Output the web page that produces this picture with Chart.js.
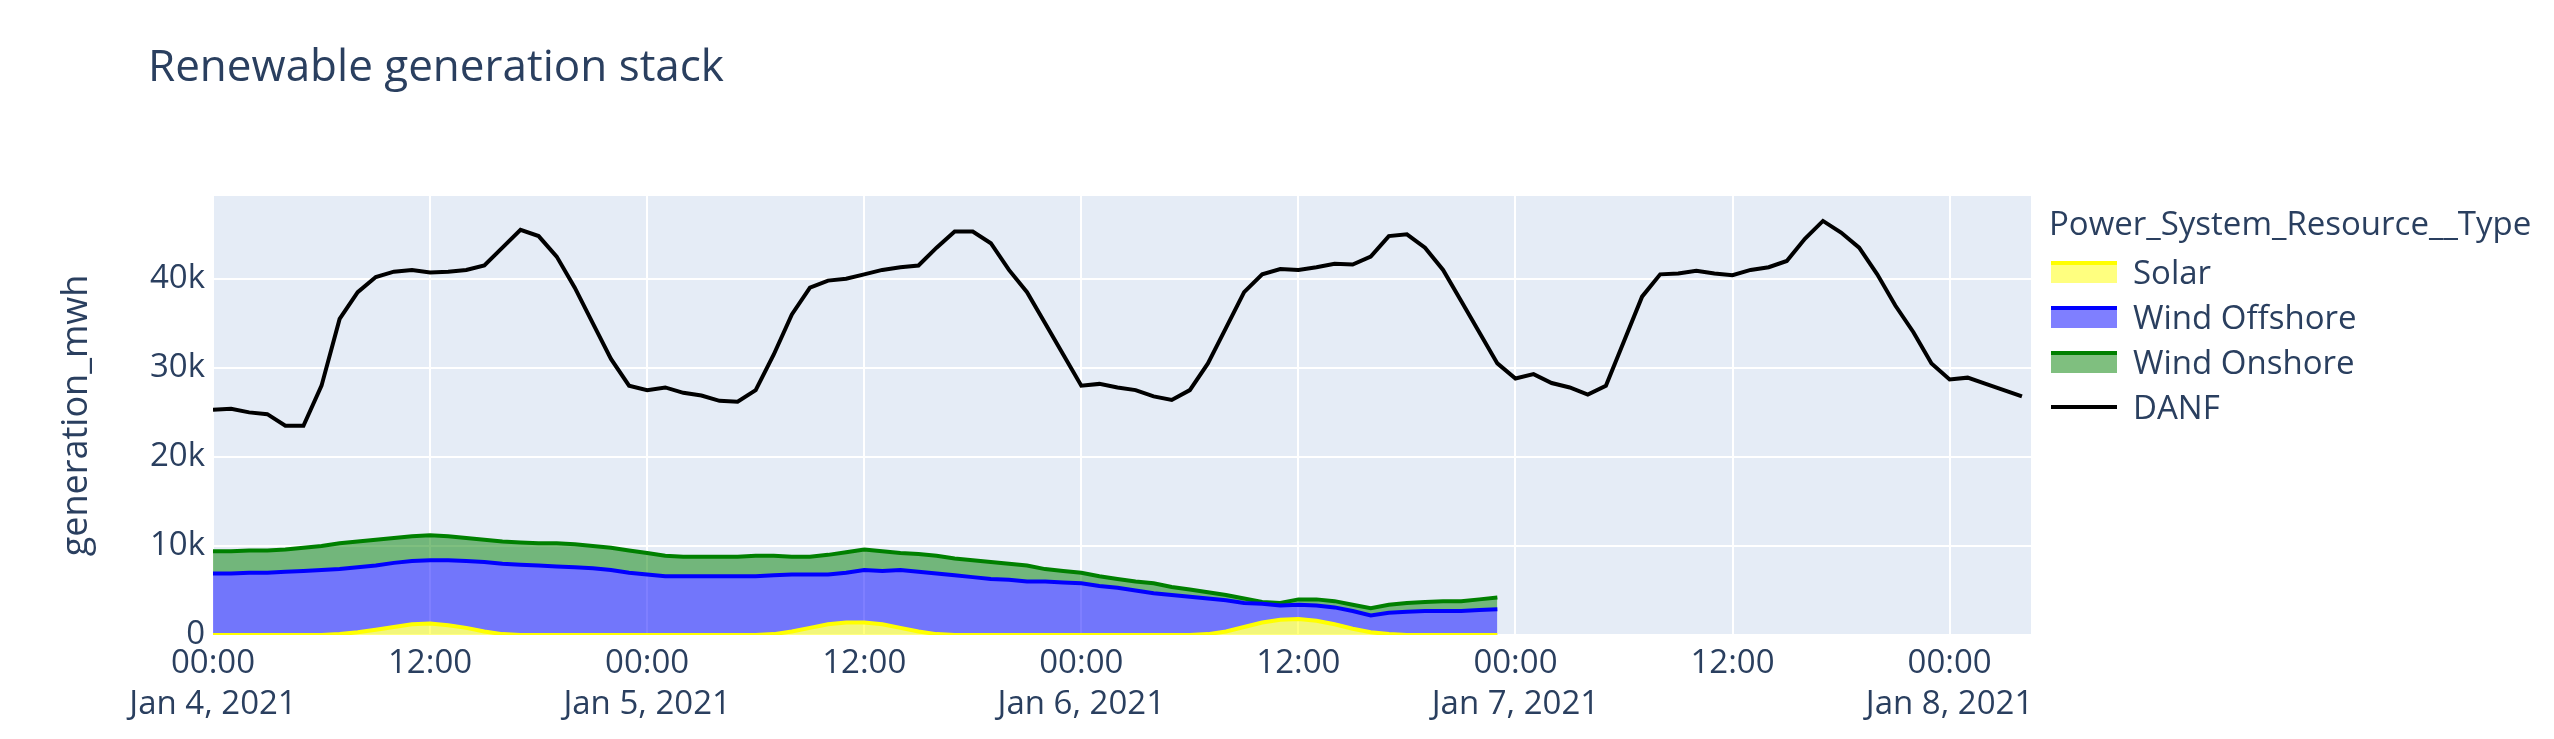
<!DOCTYPE html>
<html>
<head>
<meta charset="utf-8">
<script src="https://cdn.jsdelivr.net/npm/chart.js@4/dist/chart.umd.min.js"></script>
<style>
  body { margin: 0; background: #fff; font-family: 'Open Sans', sans-serif; color: #2a3f5f; }
  #wrap { position: relative; width: 2554px; height: 739px; }
  #title { position: absolute; left: 148px; top: 34px; font-size: 44px; }
  #legend { position: absolute; left: 2049px; top: 200px; font-size: 33px; }
  #legend .head { margin-bottom: 4px; }
  #legend .item { display: flex; align-items: center; height: 45px; }
  #legend .sw { width: 66px; height: 22px; margin-left: 2px; margin-right: 16px; box-sizing: border-box; }
</style>
</head>
<body>
<div id="wrap">
  <canvas id="myChart" width="2554" height="739"></canvas>
  <div id="title">Renewable generation stack</div>
  <div id="legend">
    <div class="head">Power_System_Resource__Type</div>
    <div class="item"><div class="sw" style="background:rgba(255,255,0,0.5);border-top:4px solid #ffff00"></div>Solar</div>
    <div class="item"><div class="sw" style="background:rgba(0,0,255,0.5);border-top:4px solid #0000ff"></div>Wind Offshore</div>
    <div class="item"><div class="sw" style="background:rgba(0,128,0,0.5);border-top:4px solid #008000"></div>Wind Onshore</div>
    <div class="item"><div class="sw" style="height:4px;background:#000"></div>DANF</div>
  </div>
</div>
<script>
// === Daten (MWh, stündlich ab 04.01.2021 00:00) ===
const dayLabels = ['Jan 4, 2021', 'Jan 5, 2021', 'Jan 6, 2021', 'Jan 7, 2021', 'Jan 8, 2021'];
const xTicks = [0, 12, 24, 36, 48, 60, 72, 84, 96];
const yTicks = [0, 10000, 20000, 30000, 40000];

const solar = [
  0, 0, 0, 0, 0, 0, 0, 100, 300, 600, 900, 1200, 1300, 1100, 800, 400, 100, 0, 0, 0, 0, 0, 0, 0,
  0, 0, 0, 0, 0, 0, 0, 100, 400, 800, 1200, 1400, 1400, 1200, 800, 400, 100, 0, 0, 0, 0, 0, 0, 0,
  0, 0, 0, 0, 0, 0, 0, 100, 400, 900, 1400, 1700, 1800, 1600, 1200, 700, 300, 100, 0, 0, 0, 0, 0, 0
];

// Oberkante Offshore (gestapelt auf Solar)
const offshoreTop = [
  6900, 6900, 7000, 7000, 7100, 7200, 7300, 7400, 7600, 7800, 8100, 8300,
  8400, 8400, 8300, 8200, 8000, 7900, 7800, 7700, 7600, 7500, 7300, 7000,
  6800, 6600, 6600, 6600, 6600, 6600, 6600, 6700, 6800, 6800, 6800, 7000,
  7300, 7200, 7300, 7100, 6900, 6700, 6500, 6300, 6200, 6000, 6000, 5900,
  5800, 5500, 5300, 5000, 4700, 4500, 4300, 4100, 3900, 3600, 3500, 3300,
  3400, 3300, 3100, 2700, 2200, 2500, 2600, 2700, 2700, 2700, 2800, 2900
];

// Oberkante Onshore (gestapelt auf Offshore)
const onshoreTop = [
  9400, 9400, 9500, 9500, 9600, 9800, 10000, 10300, 10500, 10700, 10900, 11100,
  11200, 11100, 10900, 10700, 10500, 10400, 10300, 10300, 10200, 10000, 9800, 9500,
  9200, 8900, 8800, 8800, 8800, 8800, 8900, 8900, 8800, 8800, 9000, 9300,
  9600, 9400, 9200, 9100, 8900, 8600, 8400, 8200, 8000, 7800, 7400, 7200,
  7000, 6600, 6300, 6000, 5800, 5400, 5100, 4800, 4500, 4100, 3700, 3600,
  4000, 4000, 3800, 3400, 3000, 3400, 3600, 3700, 3800, 3800, 4000, 4200
];

const danf = [
  25300, 25400, 25000, 24800, 23500, 23500, 28000, 35500, 38500, 40200, 40800, 41000,
  40700, 40800, 41000, 41500, 43500, 45500, 44800, 42500, 39000, 35000, 31000, 28000,
  27500, 27800, 27200, 26900, 26300, 26200, 27500, 31500, 36000, 39000, 39800, 40000,
  40500, 41000, 41300, 41500, 43500, 45300, 45300, 44000, 41000, 38500, 35000, 31500,
  28000, 28200, 27800, 27500, 26800, 26400, 27500, 30500, 34500, 38500, 40500, 41100,
  41000, 41300, 41700, 41600, 42500, 44800, 45000, 43500, 41000, 37500, 34000, 30500,
  28800, 29300, 28300, 27800, 27000, 28000, 33000, 38000, 40500, 40600, 40900, 40600,
  40400, 41000, 41300, 42000, 44500, 46500, 45200, 43500, 40500, 37000, 34000, 30500,
  28700, 28900, 28200, 27500, 26800
];

const xy = arr => arr.map((v, i) => ({ x: i, y: v }));

const fontFam = "'Open Sans', sans-serif";
const textCol = '#2a3f5f';

// Hintergrund der Plotfläche
const bgPlugin = {
  id: 'bg',
  beforeDraw(chart) {
    const a = chart.chartArea, c = chart.ctx;
    c.save();
    c.fillStyle = '#E5ECF6';
    c.fillRect(a.left, a.top, a.right - a.left, a.bottom - a.top);
    c.restore();
  }
};

new Chart(document.getElementById('myChart'), {
  type: 'line',
  data: {
    datasets: [
      { label: 'Solar', data: xy(solar), borderColor: '#ffff00', backgroundColor: 'rgba(255,255,0,0.5)', fill: 'origin', borderWidth: 4 },
      { label: 'Wind Offshore', data: xy(offshoreTop), borderColor: '#0000ff', backgroundColor: 'rgba(0,0,255,0.5)', fill: '-1', borderWidth: 4 },
      { label: 'Wind Onshore', data: xy(onshoreTop), borderColor: '#008000', backgroundColor: 'rgba(0,128,0,0.5)', fill: '-1', borderWidth: 4 },
      { label: 'DANF', data: xy(danf), borderColor: '#000000', fill: false, borderWidth: 4 }
    ]
  },
  options: {
    responsive: false,
    animation: false,
    layout: { padding: { top: 196, right: 523, bottom: 0, left: 55 } },
    elements: { point: { radius: 0 }, line: { tension: 0 } },
    plugins: { legend: { display: false }, tooltip: { enabled: false } },
    scales: {
      x: {
        type: 'linear', min: 0, max: 100.5,
        afterFit: s => { s.height = 104; },
        afterBuildTicks: s => { s.ticks = xTicks.map(v => ({ value: v })); },
        border: { display: false },
        grid: { color: '#ffffff', lineWidth: 2, drawTicks: false },
        ticks: {
          color: textCol, padding: 8,
          font: { family: fontFam, size: 33, lineHeight: 1.25 }, maxRotation: 0, autoSkip: false,
          callback: v => v % 24 === 0 ? ['00:00', dayLabels[v / 24]] : '12:00'
        }
      },
      y: {
        min: 0, max: 49300,
        afterFit: s => { s.width = 158; },
        afterBuildTicks: s => { s.ticks = yTicks.map(v => ({ value: v })); },
        border: { display: false },
        grid: { color: '#ffffff', lineWidth: 2, drawTicks: false },
        title: { display: true, text: 'generation_mwh', color: textCol, font: { family: fontFam, size: 36 }, padding: 0 },
        ticks: {
          color: textCol, padding: 8,
          font: { family: fontFam, size: 33 },
          callback: v => v === 0 ? '0' : (v / 1000) + 'k'
        }
      }
    }
  },
  plugins: [bgPlugin]
});
</script>
</body>
</html>
